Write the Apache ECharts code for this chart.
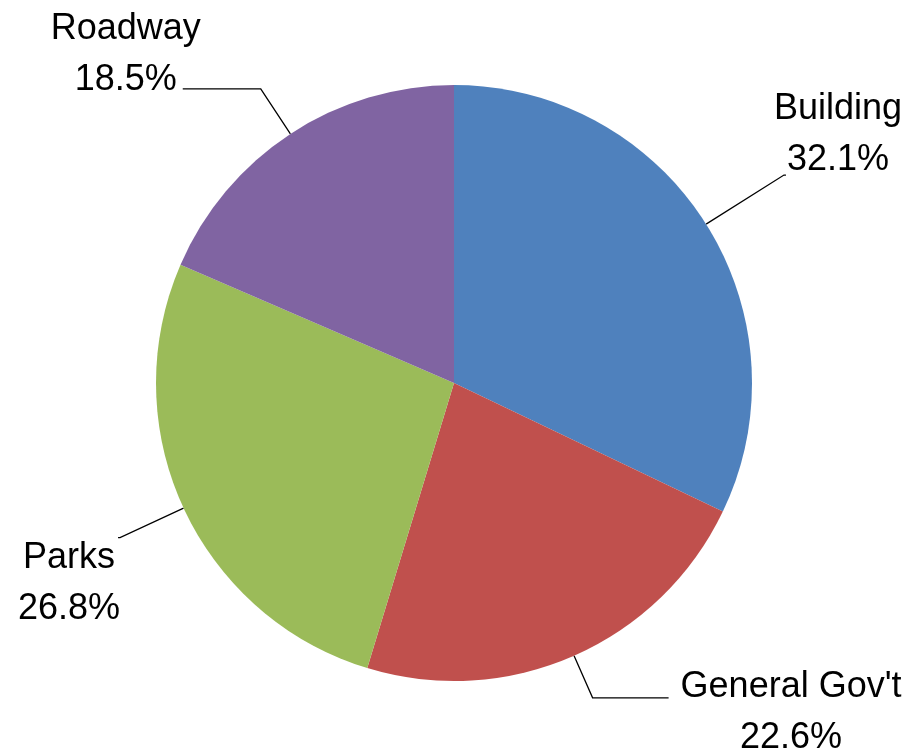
<!DOCTYPE html>
<html>
<head>
<meta charset="utf-8">
<script src="https://cdn.jsdelivr.net/npm/echarts@6/dist/echarts.min.js"></script>
<style>
html,body{margin:0;padding:0;background:#fff;}
#chart{width:918px;height:754px;}
</style>
</head>
<body>
<div id="chart"></div>
<script>
const categories = ['Building', "General Gov't", 'Parks', 'Roadway'];
const values = [32.1, 22.6, 26.8, 18.5];
const colors = ['#4F81BD', '#C0504D', '#9BBB59', '#8064A2'];

// label line / label placement tweaks per slice (style only)
const labelTweaks = [
  { length: 92, length2: 2, dist: -12, padding: [0, 0, 80, 0] },
  { length: 46, length2: 76, dist: 12, padding: [30, 0, 0, 0] },
  { length: 70, length2: 2, dist: -2, padding: [92, 0, 0, 0] },
  { length: 54, length2: 78, dist: -18, padding: [0, 0, 68, 0] }
];

const font = 'Liberation Sans';
const tokenStyle = { align: 'center', fontSize: 36, lineHeight: 51, fontFamily: font, color: '#000' };

const data = categories.map((name, i) => ({
  name: name,
  value: values[i],
  itemStyle: { color: colors[i] },
  label: {
    distanceToLabelLine: labelTweaks[i].dist,
    padding: labelTweaks[i].padding
  },
  labelLine: {
    length: labelTweaks[i].length,
    length2: labelTweaks[i].length2
  }
}));

const chart = echarts.init(document.getElementById('chart'), null, { renderer: 'canvas' });
chart.setOption({
  backgroundColor: '#ffffff',
  animation: false,
  series: [{
    type: 'pie',
    center: [454, 383],
    radius: 298,
    startAngle: 90,
    clockwise: true,
    avoidLabelOverlap: false,
    data: data,
    itemStyle: { borderWidth: 0 },
    emphasis: { disabled: true },
    label: {
      show: true,
      position: 'outside',
      alignTo: 'none',
      fontFamily: font,
      fontSize: 36,
      color: '#000',
      formatter: function (p) {
        return '{n|' + p.name + '}\n{p|' + p.value.toFixed(1) + '%}';
      },
      rich: { n: tokenStyle, p: tokenStyle }
    },
    labelLine: {
      show: true,
      lineStyle: { color: '#000', width: 1.3 }
    }
  }]
});
</script>
</body>
</html>
